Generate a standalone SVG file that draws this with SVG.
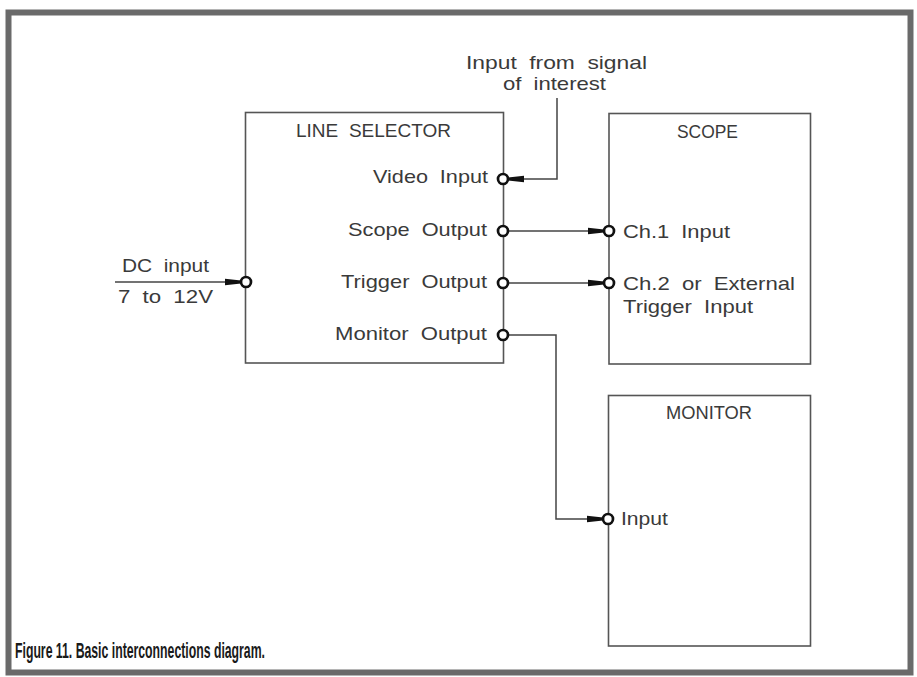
<svg xmlns="http://www.w3.org/2000/svg" width="917" height="677" viewBox="0 0 917 677">
<defs>
<style>
.box{fill:none;stroke:#555;stroke-width:1.6}
.wire{fill:none;stroke:#444;stroke-width:1.5}
.port{fill:#fff;stroke:#111;stroke-width:2.7}
.lbl{font-family:"Liberation Sans",Arial,sans-serif;font-size:18.5px;fill:#3a3a3a;word-spacing:5px}
.up{font-size:17.5px}
.cap{font-family:"Liberation Sans",Arial,sans-serif;font-size:22px;font-weight:900;fill:#1a1a1a}
</style>
<marker id="arr" markerUnits="userSpaceOnUse" markerWidth="18" markerHeight="10" refX="16" refY="5" orient="auto">
<path d="M0,1.8 L16,3.6 L16,6.4 L0,8.2 Z" fill="#111"/>
</marker>
</defs>
<rect x="0" y="0" width="917" height="677" fill="#fff"/>
<rect id="frame" x="8.5" y="12.5" width="902" height="660" fill="none" stroke="#6a6a6a" stroke-width="6"/>

<g id="connectors">
<path class="wire" d="M115,282 H241" marker-end="url(#arr)"/>
<path class="wire" d="M557,98 V179 H508" marker-end="url(#arr)"/>
<path class="wire" d="M508,231 H604" marker-end="url(#arr)"/>
<path class="wire" d="M508,283 H604" marker-end="url(#arr)"/>
<path class="wire" d="M508,335 H556 V519 H603" marker-end="url(#arr)"/>
</g>

<g id="line-selector">
<rect class="box" x="245.5" y="112.5" width="258" height="250.5"/>
<text class="lbl up" x="296" y="137" textLength="155" lengthAdjust="spacingAndGlyphs">LINE SELECTOR</text>
<text class="lbl" x="373" y="183" textLength="115" lengthAdjust="spacingAndGlyphs">Video Input</text>
<text class="lbl" x="348" y="236" textLength="139" lengthAdjust="spacingAndGlyphs">Scope Output</text>
<text class="lbl" x="341" y="288" textLength="146" lengthAdjust="spacingAndGlyphs">Trigger Output</text>
<text class="lbl" x="335" y="340" textLength="152" lengthAdjust="spacingAndGlyphs">Monitor Output</text>
<circle class="port" cx="246" cy="282" r="5"/>
<circle class="port" cx="503" cy="179" r="5"/>
<circle class="port" cx="503" cy="231" r="5"/>
<circle class="port" cx="503" cy="283" r="5"/>
<circle class="port" cx="503" cy="335" r="5"/>
</g>

<g id="scope">
<rect class="box" x="609" y="113.5" width="201.5" height="250.5"/>
<text class="lbl up" x="677" y="138" textLength="61" lengthAdjust="spacingAndGlyphs">SCOPE</text>
<text class="lbl" x="623" y="238" textLength="107" lengthAdjust="spacingAndGlyphs">Ch.1 Input</text>
<text class="lbl" x="623" y="290" textLength="172" lengthAdjust="spacingAndGlyphs">Ch.2 or External</text>
<text class="lbl" x="623" y="313" textLength="130" lengthAdjust="spacingAndGlyphs">Trigger Input</text>
<circle class="port" cx="609" cy="231" r="5"/>
<circle class="port" cx="609" cy="283" r="5"/>
</g>

<g id="monitor">
<rect class="box" x="608.5" y="395.5" width="202" height="250.5"/>
<text class="lbl up" x="666" y="419" textLength="86" lengthAdjust="spacingAndGlyphs">MONITOR</text>
<text class="lbl" x="621" y="525" textLength="47" lengthAdjust="spacingAndGlyphs">Input</text>
<circle class="port" cx="608" cy="519" r="5"/>
</g>

<g id="signal-source">
<text class="lbl" x="466" y="69" textLength="181" lengthAdjust="spacingAndGlyphs">Input from signal</text>
<text class="lbl" x="503" y="90" textLength="103" lengthAdjust="spacingAndGlyphs">of interest</text>
</g>

<g id="dc-input">
<text class="lbl" x="122" y="272" textLength="87" lengthAdjust="spacingAndGlyphs">DC input</text>
<text class="lbl" x="118" y="303" textLength="95" lengthAdjust="spacingAndGlyphs">7 to 12V</text>
</g>

<text class="cap" x="15" y="658" textLength="250" lengthAdjust="spacingAndGlyphs">Figure 11. Basic interconnections diagram.</text>
</svg>
